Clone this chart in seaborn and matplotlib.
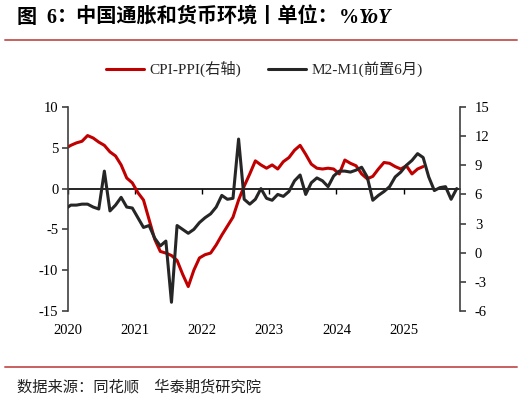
import numpy as np
import pandas as pd
import seaborn as sns
import matplotlib.pyplot as plt
from matplotlib.lines import Line2D

# monthly data, first value = 2019-12 (cut off by the axis), then 2020-01 onwards
year_labels = ["2020", "2021", "2022", "2023", "2024", "2025"]

# CPI-PPI, read against the left scale
cpi_ppi = [4.9, 5.3, 5.6, 5.8, 6.5, 6.2, 5.7, 5.3, 4.5, 4.0, 2.9,
           1.3, 0.7, -0.5, -1.4, -3.8, -6.2, -7.7, -7.9, -8.2, -8.8,
           -10.5, -12.0, -10.0, -8.5, -8.1, -7.9, -6.9, -5.7, -4.6, -3.5,
           -1.4, 0.3, 1.8, 3.4, 2.9, 2.5, 2.9, 2.4, 3.3, 3.8,
           4.7, 5.3, 4.2, 3.0, 2.5, 2.4, 2.5, 2.4, 1.8, 3.5,
           3.1, 2.8, 1.8, 1.2, 1.5, 2.4, 3.2, 3.1, 2.7, 2.4,
           2.8, 1.8, 2.4, 2.7]

# M2-M1 led by 6 months, read against the right scale
m2_m1_lead6 = [4.5, 4.9, 4.9, 5.0, 5.0, 4.7, 4.5, 8.4, 4.3, 4.9, 5.7,
               4.7, 4.6, 3.6, 2.6, 2.8, 1.5, 0.7, 1.2, -5.1, 2.8,
               2.4, 2.0, 2.4, 3.1, 3.6, 4.0, 4.7, 5.9, 5.5, 5.6,
               11.7, 5.5, 5.0, 5.5, 6.6, 5.6, 5.4, 6.0, 5.8, 6.3,
               7.4, 8.0, 6.0, 7.2, 7.7, 7.4, 6.8, 7.9, 8.4, 8.4,
               8.3, 8.5, 8.8, 7.8, 5.4, 5.9, 6.3, 6.8, 7.8, 8.3,
               9.0, 9.5, 10.2, 9.8, 7.8, 6.4, 6.7, 6.8, 5.5, 6.6]

left_ticks = [-15, -10, -5, 0, 5, 10]
right_ticks = [-6, -3, 0, 3, 6, 9, 12, 15]
n_months = 70

df_cpi = pd.DataFrame({"month": np.arange(len(cpi_ppi)) - 0.5, "value": cpi_ppi})
df_m2 = pd.DataFrame({"month": np.arange(len(m2_m1_lead6)) - 0.5, "value": m2_m1_lead6})

sns.set_style("ticks")
plt.rcParams["font.family"] = ["Liberation Serif", "Noto Sans CJK SC"]
plt.rcParams["axes.unicode_minus"] = False

W, H = 522, 400
fig = plt.figure(figsize=(W / 100, H / 100), dpi=100)
ax = fig.add_axes([68 / W, 1 - 311 / H, (459.5 - 68) / W, 204 / H])
ax2 = ax.twinx()

sns.lineplot(data=df_cpi, x="month", y="value", ax=ax, color="#c00000",
             lw=2.2, label="CPI-PPI(右轴)", legend=False)
sns.lineplot(data=df_m2, x="month", y="value", ax=ax2, color="#262626",
             lw=2.2, label="M2-M1(前置6月)", legend=False)

spine_col = "#404040"
ax.set_xlim(0, n_months)
ax.set_ylim(-15, 10)
ax2.set_ylim(-6, 15)
ax.set_yticks(left_ticks)
ax2.set_yticks(right_ticks)
year_pos = np.arange(len(year_labels)) * 12
ax.set_xticks(year_pos)
ax.set_xticklabels(year_labels)
ax.set_xlabel("")
ax.set_ylabel("")
ax2.set_ylabel("")

for a in (ax, ax2):
    for s in a.spines.values():
        s.set_visible(False)
ax.spines["left"].set_visible(True)
ax.spines["left"].set_color(spine_col)
ax.spines["left"].set_linewidth(1.2)
ax2.spines["right"].set_visible(True)
ax2.spines["right"].set_color(spine_col)
ax2.spines["right"].set_linewidth(1.2)

ax.tick_params(axis="y", direction="out", length=4, width=1.2, color=spine_col,
               labelsize=10.5, pad=3, labelcolor="black")
ax2.tick_params(axis="y", direction="out", length=4, width=1.2, color=spine_col,
                labelsize=10.5, pad=7, labelcolor="black")
ax.tick_params(axis="x", length=0, labelsize=10.5, pad=9, labelcolor="black")

# zero line of the left scale acts as the x axis
zero_axis = ax.secondary_xaxis((0 + 15) / 25)
for s in zero_axis.spines.values():
    s.set_color("black")
    s.set_linewidth(1.2)
zero_axis.set_xticks(year_pos)
zero_axis.set_xticklabels([])
zero_axis.xaxis.set_ticks_position("bottom")
zero_axis.tick_params(axis="x", direction="out", length=3.5, width=1.0,
                      color="black", labelbottom=False, labeltop=False)

handles = [ax.lines[0], ax2.lines[0]]
labels = [h.get_label() for h in handles]
fig.legend(handles, labels, loc="center", bbox_to_anchor=(0.507, 1 - 69 / H),
           ncol=2, frameon=False, fontsize=11, handlelength=2.5,
           handletextpad=0.35, columnspacing=1.75)

# title, built from pieces with different fonts
renderer = fig.canvas.get_renderer()
cjk = ["Noto Sans CJK SC"]
serif = ["Liberation Serif"]
title_parts = [
    ("图", dict(family=cjk, fontweight="bold")),
    ("  6", dict(family=serif, fontweight="bold")),
    ("：中国通胀和货币环境丨单位：", dict(family=cjk, fontweight="bold")),
    ("%", dict(family=serif, fontweight="bold")),
    ("YoY", dict(family=serif, fontweight="bold", fontstyle="italic")),
]
tx = 17 / W
for s, kw in title_parts:
    t = fig.text(tx, 1 - 23 / H, s, fontsize=14.5, va="baseline", color="black", **kw)
    tx += t.get_window_extent(renderer).width / fig.bbox.width

line_col = "#c9605f"
fig.add_artist(Line2D([5 / W, 517 / W], [1 - 40 / H, 1 - 40 / H], color=line_col, lw=1.4))
fig.add_artist(Line2D([5 / W, 517 / W], [1 - 367 / H, 1 - 367 / H], color=line_col, lw=1.4))

fig.text(17 / W, 1 - 387 / H, "数据来源：同花顺　华泰期货研究院", family=cjk,
         fontsize=11, va="center", color="#222222")

fig.savefig("out.png", dpi=100)
